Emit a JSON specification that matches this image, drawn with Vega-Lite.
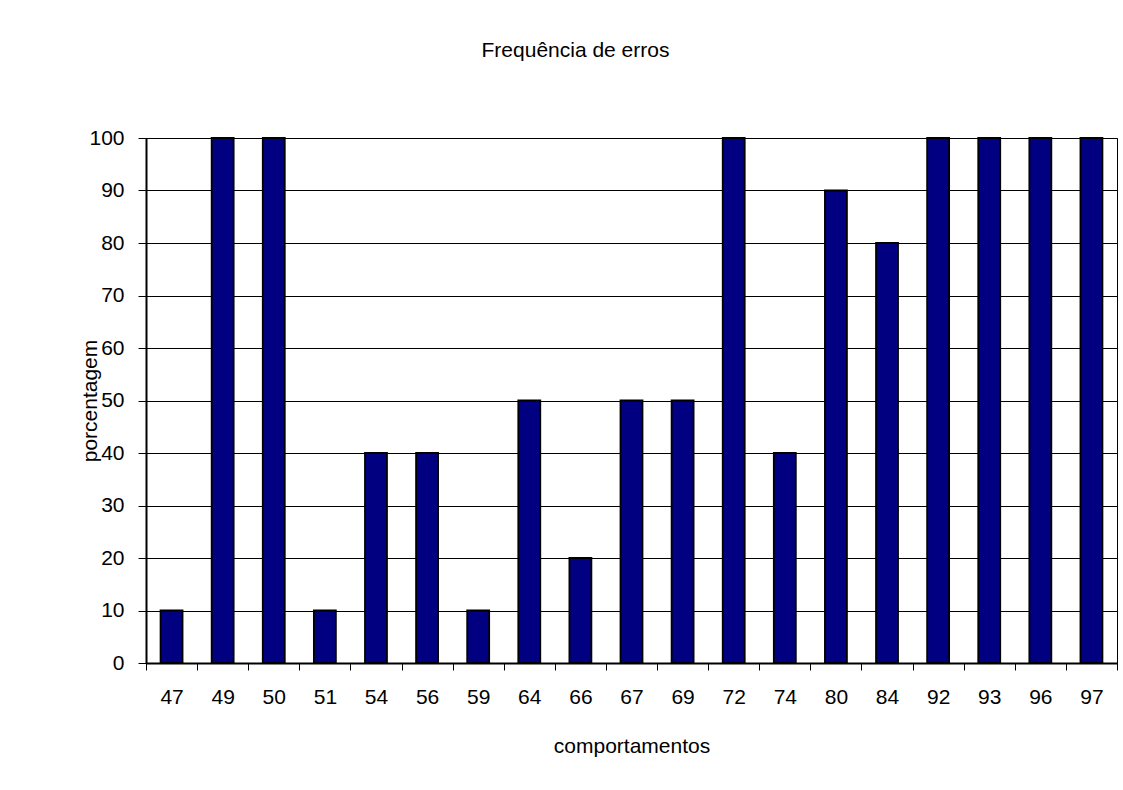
{
  "$schema": "https://vega.github.io/schema/vega-lite/v6.json",
  "width": 971,
  "height": 525,
  "autosize": {"type": "none"},
  "padding": {"left": 146, "top": 138, "right": 6, "bottom": 127},
  "background": "white",
  "title": {
    "text": "Frequência de erros",
    "frame": "group",
    "anchor": "middle",
    "baseline": "alphabetic",
    "offset": 49,
    "dx": -56,
    "font": "Liberation Sans",
    "fontSize": 21,
    "fontWeight": "normal",
    "color": "black"
  },
  "data": {
    "values": [
      {"comportamento": "47", "porcentagem": 10},
      {"comportamento": "49", "porcentagem": 100},
      {"comportamento": "50", "porcentagem": 100},
      {"comportamento": "51", "porcentagem": 10},
      {"comportamento": "54", "porcentagem": 40},
      {"comportamento": "56", "porcentagem": 40},
      {"comportamento": "59", "porcentagem": 10},
      {"comportamento": "64", "porcentagem": 50},
      {"comportamento": "66", "porcentagem": 20},
      {"comportamento": "67", "porcentagem": 50},
      {"comportamento": "69", "porcentagem": 50},
      {"comportamento": "72", "porcentagem": 100},
      {"comportamento": "74", "porcentagem": 40},
      {"comportamento": "80", "porcentagem": 90},
      {"comportamento": "84", "porcentagem": 80},
      {"comportamento": "92", "porcentagem": 100},
      {"comportamento": "93", "porcentagem": 100},
      {"comportamento": "96", "porcentagem": 100},
      {"comportamento": "97", "porcentagem": 100}
    ]
  },
  "mark": {
    "type": "bar",
    "width": {"band": 0.43},
    "fill": "#000080",
    "stroke": "black",
    "strokeWidth": 1.8
  },
  "encoding": {
    "x": {
      "field": "comportamento",
      "type": "ordinal",
      "sort": null,
      "scale": {"paddingInner": 0, "paddingOuter": 0},
      "axis": {
        "title": "comportamentos",
        "titleBaseline": "alphabetic",
        "titleY": 89,
        "labelAngle": 0,
        "tickBand": "extent",
        "grid": false,
        "tickSize": 7,
        "labelPadding": 16
      }
    },
    "y": {
      "field": "porcentagem",
      "type": "quantitative",
      "scale": {"domain": [0, 100], "nice": false},
      "axis": {
        "title": "porcentagem",
        "values": [0, 10, 20, 30, 40, 50, 60, 70, 80, 90, 100],
        "titleX": -46,
        "titleBaseline": "bottom",
        "grid": true,
        "tickSize": 8,
        "labelPadding": 14
      }
    }
  },
  "config": {
    "font": "Liberation Sans",
    "view": {"stroke": "black", "strokeWidth": 1},
    "axis": {
      "domainColor": "black",
      "domainWidth": 2,
      "tickColor": "black",
      "tickWidth": 1,
      "gridColor": "black",
      "gridWidth": 1,
      "gridOpacity": 1,
      "labelFont": "Liberation Sans",
      "labelFontSize": 21,
      "labelColor": "black",
      "titleFont": "Liberation Sans",
      "titleFontSize": 21,
      "titleFontWeight": "normal",
      "titleColor": "black"
    }
  }
}
